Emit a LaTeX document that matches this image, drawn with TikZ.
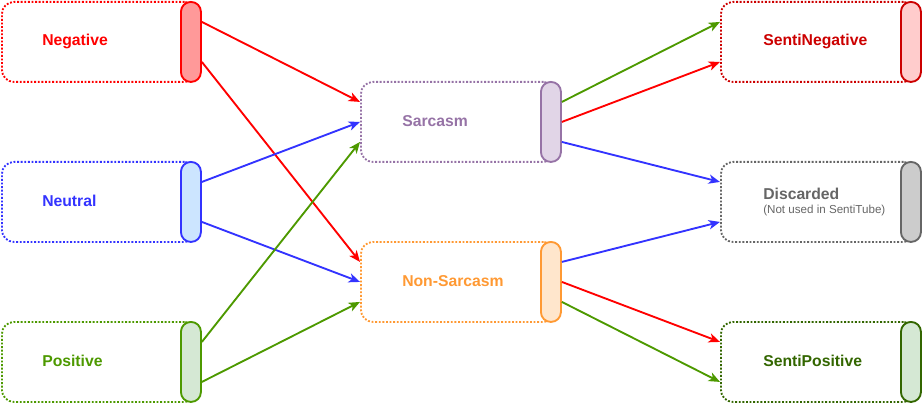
\documentclass[tikz,border=0pt]{standalone}
\usepackage{fontspec}
\setmainfont{Liberation Sans}
\usetikzlibrary{arrows.meta,calc}
\definecolor{cRed}{HTML}{FF0000}
\definecolor{cRedFill}{HTML}{FF9999}
\definecolor{cBlue}{HTML}{3333FF}
\definecolor{cBlueFill}{HTML}{CCE5FF}
\definecolor{cGreen}{HTML}{4D9900}
\definecolor{cGreenFill}{HTML}{D5E8D4}
\definecolor{cPurple}{HTML}{9673A6}
\definecolor{cPurpleFill}{HTML}{E1D5E7}
\definecolor{cOrange}{HTML}{FF9933}
\definecolor{cOrangeFill}{HTML}{FFE6CC}
\definecolor{cDRed}{HTML}{CC0000}
\definecolor{cDRedFill}{HTML}{FFCCCC}
\definecolor{cGray}{HTML}{666666}
\definecolor{cGrayFill}{HTML}{CCCCCC}
\definecolor{cDGreen}{HTML}{336600}
\begin{document}
\begin{tikzpicture}[x=0.75pt,y=-0.75pt,
  outerbox/.style={draw=#1, dash pattern=on 1.4pt off 1.3pt, line width=1.4pt, rounded corners=9pt,
    minimum width=146pt, minimum height=60pt, inner sep=0pt, anchor=north west},
  pill/.style 2 args={draw=#1, fill=#2, line width=1.4pt, rounded corners=7.4pt,
    minimum width=15pt, minimum height=60pt, inner sep=0pt, anchor=north west},
  lbl/.style={text=#1, font=\bfseries\fontsize{11.8}{14}\selectfont, anchor=west, inner sep=0pt},
  sublbl/.style={text=#1, font=\fontsize{8.7}{10}\selectfont, anchor=west, inner sep=0pt},
  arr/.style={draw=#1, line width=1.4pt, -{Stealth[length=8.5pt,width=7pt,inset=2.4pt]}}
]
\useasboundingbox (0,0) rectangle (922,403);

% left column
\node[outerbox=cRed] (negB) at (1,1) {};
\node[pill={cRed}{cRedFill}] (negP) at (180,1) {};
\node[lbl=cRed] (negT) at (42,41) {Negative};

\node[outerbox=cBlue] (neuB) at (1,161) {};
\node[pill={cBlue}{cBlueFill}] (neuP) at (180,161) {};
\node[lbl=cBlue] (neuT) at (42,201) {Neutral};

\node[outerbox=cGreen] (posB) at (1,321) {};
\node[pill={cGreen}{cGreenFill}] (posP) at (180,321) {};
\node[lbl=cGreen] (posT) at (42,361) {Positive};

% middle column
\node[outerbox=cPurple] (sarB) at (360,81) {};
\node[pill={cPurple}{cPurpleFill}] (sarP) at (540,81) {};
\node[lbl=cPurple] (sarT) at (402,121) {Sarcasm};

\node[outerbox=cOrange] (nsB) at (360,241) {};
\node[pill={cOrange}{cOrangeFill}] (nsP) at (540,241) {};
\node[lbl=cOrange] (nsT) at (402,281) {Non-Sarcasm};

% right column
\node[outerbox=cDRed] (snB) at (720,1) {};
\node[pill={cDRed}{cDRedFill}] (snP) at (900,1) {};
\node[lbl=cDRed] (snT) at (763,41) {SentiNegative};

\node[outerbox=cGray] (dcB) at (720,161) {};
\node[pill={cGray}{cGrayFill}] (dcP) at (900,161) {};
\node[lbl=cGray] (dcT) at (763,194) {Discarded};
\node[sublbl=cGray] (dcS) at (763,210) {(Not used in SentiTube)};

\node[outerbox=cDGreen] (spB) at (720,321) {};
\node[pill={cDGreen}{cGreenFill}] (spP) at (900,321) {};
\node[lbl=cDGreen] (spT) at (763,361) {SentiPositive};

% left -> middle
\draw[arr=cRed] ([yshift=15pt]negP.east) -- ([yshift=15pt]sarB.west);
\draw[arr=cRed] ([yshift=-15pt]negP.east) -- ([yshift=15pt]nsB.west);
\draw[arr=cBlue] ([yshift=15pt]neuP.east) -- (sarB.west);
\draw[arr=cBlue] ([yshift=-15pt]neuP.east) -- (nsB.west);
\draw[arr=cGreen] ([yshift=15pt]posP.east) -- ([yshift=-15pt]sarB.west);
\draw[arr=cGreen] ([yshift=-15pt]posP.east) -- ([yshift=-15pt]nsB.west);

% middle -> right
\draw[arr=cGreen] ([yshift=15pt]sarP.east) -- ([yshift=15pt]snB.west);
\draw[arr=cRed] (sarP.east) -- ([yshift=-15pt]snB.west);
\draw[arr=cBlue] ([yshift=-15pt]sarP.east) -- ([yshift=15pt]dcB.west);
\draw[arr=cBlue] ([yshift=15pt]nsP.east) -- ([yshift=-15pt]dcB.west);
\draw[arr=cRed] (nsP.east) -- ([yshift=15pt]spB.west);
\draw[arr=cGreen] ([yshift=-15pt]nsP.east) -- ([yshift=-15pt]spB.west);
\end{tikzpicture}
\end{document}
